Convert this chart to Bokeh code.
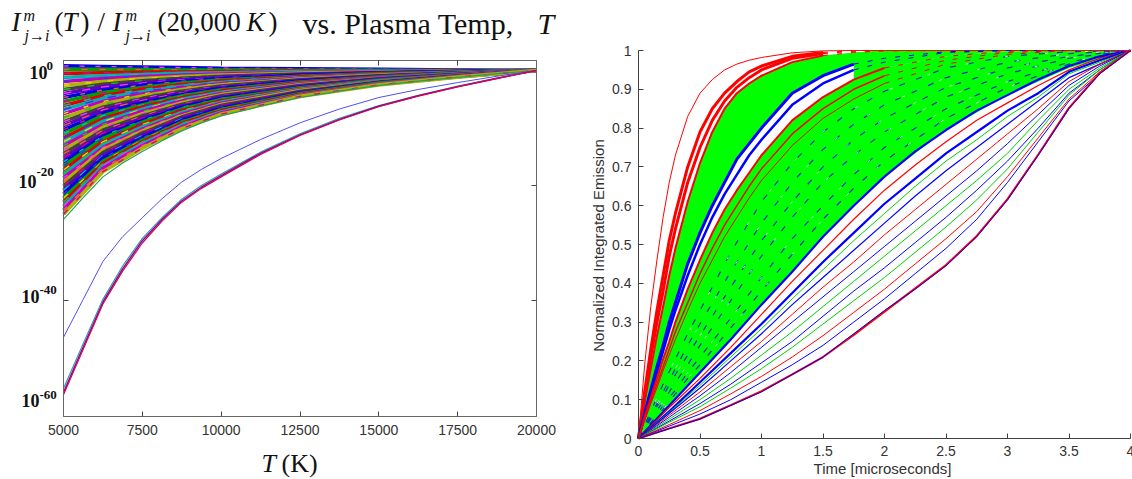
from bokeh.embed import file_html
from bokeh.resources import INLINE
from bokeh.plotting import figure
from bokeh.layouts import row
from bokeh.models import Range1d, FixedTicker, Label, LinearAxis, LogAxis

# ---------- left chart data: log10 of the ratio at each temperature ----------
temps = [5000, 6250, 7500, 8750, 10000, 12500, 15000, 17500, 20000]
band_rows = [
    [0.8, 0.7, 0.6, 0.5, 0.4, 0.3, 0.2, 0.1, 0],
    [0.2, 0.2, 0.15, 0.1, 0.1, 0.05, 0.05, 0, 0],
    [-0.5, -0.4, -0.3, -0.25, -0.2, -0.1, -0.05, 0, 0],
    [-1.2, -0.9, -0.7, -0.5, -0.4, -0.2, -0.1, -0.05, 0],
    [-1.9, -1.4, -1.05, -0.8, -0.6, -0.35, -0.2, -0.1, 0],
    [-2.6, -1.9, -1.4, -1.05, -0.8, -0.45, -0.25, -0.1, 0],
    [-3.3, -2.4, -1.8, -1.35, -1.0, -0.6, -0.35, -0.15, 0],
    [-4.0, -2.85, -2.2, -1.6, -1.2, -0.7, -0.4, -0.2, 0],
    [-4.7, -3.4, -2.55, -1.9, -1.45, -0.85, -0.45, -0.2, 0],
    [-5.4, -3.85, -2.95, -2.2, -1.65, -1.0, -0.55, -0.25, 0],
    [-6.1, -4.4, -3.3, -2.5, -1.85, -1.1, -0.6, -0.3, 0],
    [-6.8, -4.85, -3.7, -2.75, -2.1, -1.25, -0.7, -0.3, 0],
    [-7.5, -5.4, -4.1, -3.05, -2.3, -1.35, -0.75, -0.35, 0],
    [-8.2, -5.85, -4.45, -3.3, -2.5, -1.5, -0.8, -0.4, 0],
    [-8.9, -6.4, -4.85, -3.6, -2.7, -1.6, -0.9, -0.4, 0],
    [-9.6, -6.85, -5.2, -3.9, -2.95, -1.75, -0.95, -0.45, 0],
    [-10.3, -7.4, -5.6, -4.2, -3.15, -1.85, -1.05, -0.5, 0],
    [-11.0, -7.85, -6.0, -4.45, -3.35, -2.0, -1.1, -0.5, 0],
    [-11.7, -8.4, -6.35, -4.75, -3.55, -2.1, -1.2, -0.55, 0],
    [-12.4, -8.85, -6.75, -5.0, -3.8, -2.25, -1.25, -0.55, 0],
    [-13.1, -9.4, -7.1, -5.3, -4.0, -2.35, -1.3, -0.6, 0],
    [-13.8, -9.9, -7.5, -5.6, -4.2, -2.5, -1.4, -0.65, 0],
    [-14.5, -10.4, -7.9, -5.9, -4.4, -2.6, -1.45, -0.65, 0],
    [-15.2, -10.9, -8.3, -6.2, -4.65, -2.75, -1.5, -0.7, 0],
    [-15.9, -11.4, -8.7, -6.4, -4.85, -2.9, -1.6, -0.75, 0],
    [-16.6, -11.8, -9.0, -6.7, -5.05, -3.0, -1.65, -0.75, 0],
    [-17.3, -12.4, -9.4, -7.0, -5.3, -3.15, -1.75, -0.8, 0],
    [-18.0, -12.9, -9.8, -7.3, -5.5, -3.25, -1.8, -0.85, 0],
    [-18.7, -13.4, -10.2, -7.6, -5.7, -3.4, -1.9, -0.85, 0],
    [-19.4, -13.8, -10.5, -7.9, -5.9, -3.5, -1.95, -0.9, 0],
    [-20.1, -14.3, -10.9, -8.1, -6.1, -3.65, -2.0, -0.9, 0],
    [-20.8, -14.8, -11.3, -8.4, -6.4, -3.8, -2.1, -0.95, 0],
    [-21.5, -15.2, -11.7, -8.7, -6.6, -3.9, -2.15, -1.0, 0],
    [-22.2, -15.8, -12.1, -9.0, -6.8, -4.0, -2.2, -1.0, 0],
    [-22.9, -16.2, -12.4, -9.2, -7.0, -4.15, -2.3, -1.05, 0],
    [-23.6, -16.6, -12.7, -9.5, -7.2, -4.3, -2.35, -1.1, 0],
    [-24.3, -17.0, -13.1, -9.8, -7.4, -4.4, -2.4, -1.1, 0],
    [-25.0, -17.6, -13.5, -10.1, -7.6, -4.5, -2.5, -1.15, 0],
]
temps_fine = [5000, 5625, 6250, 6875, 7500, 8125, 8750, 9375, 10000, 11250, 12500, 13750, 15000, 16250, 17500, 18750, 20000]
band_edge = [-25.9, -22.1, -18.5, -16.1, -14.1, -12.2, -10.5, -9.1, -7.9, -6.2, -4.7, -3.6, -2.6, -1.85, -1.2, -0.55, 0]
blue_alone = [-46.4, -39.8, -33.2, -28.9, -25.6, -22.3, -19.4, -17.2, -15.3, -12.0, -9.1, -6.7, -4.7, -3.3, -2.1, -1.0, 0]
low_teal = [-55.3, -47.5, -39.8, -34.0, -29.2, -25.6, -22.4, -20.0, -18.0, -14.2, -11.0, -8.3, -6.1, -4.3, -2.7, -1.3, 0]
low_purple = [-56.0, -48.1, -40.3, -34.5, -29.6, -25.9, -22.7, -20.3, -18.3, -14.4, -11.2, -8.5, -6.2, -4.4, -2.8, -1.35, 0]
low_red = [-56.4, -48.5, -40.6, -34.9, -30.0, -26.2, -22.9, -20.5, -18.5, -14.6, -11.3, -8.6, -6.3, -4.45, -2.85, -1.4, 0]
band_palette = ["#0000e0", "#00a000", "#e00000", "#00b0b0", "#c000c0", "#b0b000", "#404040", "#6000c0"]
speck_palette = ["#ff30ff", "#e0e000", "#00c0c0", "#ff5050", "#20c020", "#3030ff", "#e00080"]
left_xticks = [5000, 7500, 10000, 12500, 15000, 17500, 20000]
left_yticks = [-20, -40, -60]

# ---------- right chart data ----------
t_fast = [0, .05, .1, .15, .2, .25, .3, .4, .5, .6, .7, .8, .9, 1, 1.25, 1.5, 1.75, 2, 2.5, 3, 3.5, 4]
red_outer = [0, .19, .34, .46, .57, .66, .73, .83, .89, .925, .95, .965, .975, .982, .994, .999, 1, 1, 1, 1, 1, 1]
red_a = [0, .12, .23, .33, .42, .51, .58, .70, .79, .85, .89, .92, .945, .96, .985, .995, .999, 1, 1, 1, 1, 1]
red_b = [0, .105, .21, .30, .38, .47, .54, .66, .75, .82, .87, .905, .93, .95, .98, .992, .998, 1, 1, 1, 1, 1]
red_c = [0, .095, .18, .265, .34, .42, .49, .61, .71, .79, .85, .89, .915, .935, .97, .987, .995, .999, 1, 1, 1, 1]
blue_a = [0, .065, .125, .185, .24, .30, .35, .45, .53, .60, .66, .72, .76, .80, .89, .935, .965, .98, .997, 1, 1, 1]
blue_b = [0, .06, .115, .17, .225, .28, .33, .42, .50, .57, .63, .68, .73, .77, .86, .915, .95, .97, .995, 1, 1, 1]
red_d = [0, .055, .105, .155, .205, .25, .30, .385, .46, .53, .59, .64, .685, .73, .82, .88, .925, .955, .985, .998, 1, 1]
red_e = [0, .05, .095, .14, .185, .23, .275, .35, .425, .49, .55, .60, .65, .695, .785, .85, .90, .935, .975, .995, 1, 1]
red_f = [0, .045, .09, .13, .175, .215, .255, .33, .40, .46, .52, .57, .62, .665, .755, .825, .875, .915, .965, .99, 1, 1]
green_b_bottom = [0, .017, .035, .052, .07, .087, .104, .138, .172, .205, .24, .275, .31, .345, .43, .52, .60, .675, .795, .885, .955, 1]
green_top = [0, .095, .18, .265, .34, .42, .49, .61, .71, .79, .85, .89, .915, .935, .97, .987, .995, 1, 1, 1, 1, 1]
fast_styles = [(red_outer, "#ff0000", 1.0, 22), (red_a, "#ff0000", 3.0, 16), (red_b, "#ff0000", 3.0, 16),
               (red_c, "#ff0000", 2.0, 16), (blue_a, "#0000ff", 3.0, 17), (blue_b, "#0000ff", 2.5, 17),
               (red_d, "#ff0000", 2.0, 18), (red_e, "#ff0000", 1.5, 18), (red_f, "#ff0000", 1.0, 18)]

t_slow = [0, .25, .5, .75, 1, 1.25, 1.5, 1.75, 2, 2.25, 2.5, 2.75, 3, 3.25, 3.5, 3.75, 4]
slow_rows = [
    ("#0000ff", 2.2, [0, .085, .17, .255, .345, .43, .52, .60, .675, .74, .795, .845, .885, .925, .96, .985, 1]),
    ("#ff0000", 1.2, [0, .08, .155, .235, .32, .405, .485, .565, .64, .705, .765, .82, .865, .91, .95, .98, 1]),
    ("#0000ff", 2.2, [0, .07, .145, .22, .295, .375, .455, .53, .605, .67, .735, .79, .845, .89, .945, .975, 1]),
    ("#00d000", 1.0, [0, .068, .137, .21, .283, .36, .435, .51, .58, .65, .715, .77, .83, .88, .94, .97, 1]),
    ("#0000ff", 1.2, [0, .065, .13, .20, .27, .345, .415, .485, .555, .625, .69, .75, .81, .87, .93, .965, 1]),
    ("#ff0000", 1.0, [0, .06, .12, .185, .25, .32, .39, .455, .525, .59, .655, .72, .785, .85, .92, .965, 1]),
    ("#0000ff", 1.0, [0, .055, .11, .17, .235, .30, .365, .43, .495, .56, .625, .69, .76, .835, .91, .96, 1]),
    ("#00d000", 1.0, [0, .05, .10, .155, .215, .275, .34, .405, .47, .535, .60, .665, .735, .82, .90, .955, 1]),
    ("#0000ff", 1.0, [0, .045, .09, .14, .195, .25, .315, .38, .44, .505, .57, .64, .715, .80, .89, .95, 1]),
    ("#00d000", 1.0, [0, .042, .082, .13, .18, .235, .295, .355, .415, .48, .545, .615, .695, .79, .885, .95, 1]),
    ("#ff0000", 1.0, [0, .036, .072, .115, .16, .21, .265, .325, .385, .45, .515, .585, .675, .775, .875, .945, 1]),
    ("#0000ff", 1.0, [0, .032, .063, .10, .145, .19, .24, .30, .36, .425, .49, .565, .66, .765, .87, .94, 1]),
    ("#ff0000", 2.0, [0, .026, .051, .086, .122, .165, .21, .267, .327, .387, .447, .522, .617, .732, .852, .942, 1]),
    ("#0000ff", 1.0, [0, .025, .05, .085, .12, .165, .21, .27, .33, .385, .445, .52, .615, .73, .85, .94, 1]),
]
t_mid = [0, .1, .2, .3, .4, .5, .75, 1, 1.25, 1.5, 1.75, 2, 2.5, 3, 3.5, 4]
mid_rows = [
    [0, .07, .14, .205, .27, .33, .48, .61, .71, .79, .85, .895, .955, .985, .997, 1],
    [0, .06, .12, .18, .24, .295, .43, .555, .66, .745, .81, .86, .93, .97, .992, 1],
    [0, .055, .11, .165, .215, .265, .39, .51, .61, .70, .77, .825, .905, .955, .985, 1],
    [0, .05, .095, .145, .19, .24, .355, .47, .57, .66, .73, .79, .88, .94, .98, 1],
    [0, .04, .085, .125, .17, .21, .31, .415, .515, .60, .68, .75, .85, .92, .97, 1],
    [0, .04, .075, .115, .155, .19, .285, .38, .475, .565, .645, .715, .825, .905, .965, 1],
]
right_xticks = [0, .5, 1, 1.5, 2, 2.5, 3, 3.5, 4]
right_yticks = [0, .1, .2, .3, .4, .5, .6, .7, .8, .9, 1]

H = 479
L_W = 580
R_W = 552
# Both figures' frames fill the whole figure, so that their axes sit inside the frame
# and their texts are not clipped. These are page pixels of the plot boxes.
BOX_L, BOX_R, BOX_T, BOX_B = 63, 536, 60, 416
PX_PER_DECADE = 5.75
Y_ZERO_PX = 70
x_per_px = (20000 - 5000) / (BOX_R - BOX_L)
top_dec = Y_ZERO_PX / PX_PER_DECADE
bot_dec = (Y_ZERO_PX - H) / PX_PER_DECADE
box_top_dec = (Y_ZERO_PX - BOX_T) / PX_PER_DECADE
box_bot_dec = (Y_ZERO_PX - BOX_B) / PX_PER_DECADE
R_BOX_L, R_BOX_R, R_BOX_T, R_BOX_B = 58, 550, 50, 438
t_per_px = 4 / (R_BOX_R - R_BOX_L)
v_per_px = 1 / (R_BOX_B - R_BOX_T)


def powers(seq):
    return [10.0 ** v for v in seq]


# ---------- left ----------
left = figure(width=L_W, height=H, output_backend="svg", toolbar_location=None,
              y_axis_type="log",
              x_range=Range1d(5000 - BOX_L * x_per_px, 20000 + (L_W - BOX_R) * x_per_px),
              y_range=Range1d(10.0 ** bot_dec, 10.0 ** top_dec),
              min_border_left=0, min_border_right=0, min_border_top=0, min_border_bottom=0)
left.grid.visible = False
left.outline_line_color = None
for i, r in enumerate(band_rows):
    y = powers(r)
    left.line(temps, y, line_color=band_palette[i % len(band_palette)], line_width=3.6)
    left.line(temps, y, line_color=speck_palette[(i * 3) % len(speck_palette)], line_width=1.4,
              line_dash=f"{5 + i % 4} {11 + i % 7}")
left.line(temps_fine, powers(band_edge), line_color="#20a060", line_width=1.2)
left.line(temps_fine, powers(blue_alone), line_color="#5050f0", line_width=1)
left.line(temps_fine, powers(low_teal), line_color="#30a0a0", line_width=1.2)
left.line(temps_fine, powers(low_purple), line_color="#8000a0", line_width=1.4)
left.line(temps_fine, powers(low_red), line_color="#e00050", line_width=1.2)

box_y = (10.0 ** box_bot_dec, 10.0 ** box_top_dec)
AXIS = dict(major_tick_in=5, major_tick_out=0, minor_tick_line_color=None, minor_tick_out=0,
            axis_line_color="#666666", major_tick_line_color="#444444",
            major_label_text_font_size="0px", major_label_standoff=0)
xa = left.xaxis[0]
xa.update(ticker=FixedTicker(ticks=left_xticks), fixed_location=box_y[0], bounds=(5000, 20000),
          major_label_overrides={t: "" for t in left_xticks}, **AXIS)
ya = left.yaxis[0]
ya.update(ticker=FixedTicker(ticks=powers(left_yticks[:2])), fixed_location=5000, bounds=box_y,
          major_label_overrides={t: "" for t in powers(left_yticks[:2])}, **AXIS)
left.add_layout(LinearAxis(ticker=FixedTicker(ticks=left_xticks), fixed_location=box_y[1], bounds=(5000, 20000),
                           major_label_overrides={t: "" for t in left_xticks}, **AXIS), "above")
left.add_layout(LogAxis(ticker=FixedTicker(ticks=powers(left_yticks[:2])), fixed_location=20000, bounds=box_y,
                        major_label_overrides={t: "" for t in powers(left_yticks[:2])}, **AXIS), "right")


def put(px, py, text, size, style="normal", color="#111111", font="Liberation Serif"):
    """Place a text whose baseline lies at page pixel (px, py); the label draws about 0.4 em lower."""
    left.add_layout(Label(x=px, y=H - py + 0.4 * size, x_units="screen", y_units="screen",
                          text=text, text_font=font, text_font_size=f"{size}px", level="overlay",
                          text_font_style=style, text_color=color, text_baseline="alphabetic"))


for t in left_xticks:
    left.add_layout(Label(x=t, y=H - 429, y_units="screen", text=str(t), text_align="center",
                          text_baseline="alphabetic", text_font="Liberation Sans", level="overlay",
                          text_font_size="14px", text_color="#333333"))

# title pieces
put(11, 32, "I", 27, "italic")
put(23, 21, "m", 16, "italic")
put(24, 41, "j→i", 16, "italic")
put(54, 32, "(", 27)
put(62, 32, "T", 27, "italic")
put(80, 32, ")", 27)
put(97, 32, "/", 27)
put(112, 32, "I", 27, "italic")
put(125, 21, "m", 16, "italic")
put(125, 41, "j→i", 16, "italic")
put(157, 32, "(20,000", 27)
put(246, 32, "K", 27, "italic")
put(268, 32, ")", 27)
put(302, 35, "vs. Plasma Temp,", 30)
put(537, 35, "T", 30, "italic")
# y tick labels
put(29, 79, "10", 18, "bold")
put(46, 71, "0", 13, "bold")
put(18, 188, "10", 18, "bold")
put(36, 177, "-20", 13, "bold")
put(21, 303, "10", 18, "bold")
put(39, 295, "-40", 13, "bold")
put(21, 407, "10", 18, "bold")
put(39, 400, "-60", 13, "bold")
# x axis title
put(261, 473, "T", 26, "italic")
put(281, 473, "(K)", 26)

# ---------- right ----------
right = figure(width=R_W, height=H, output_backend="svg", toolbar_location=None,
               x_range=Range1d(-R_BOX_L * t_per_px, 4 + (R_W - R_BOX_R) * t_per_px),
               y_range=Range1d(-(H - R_BOX_B) * v_per_px, 1 + R_BOX_T * v_per_px),
               min_border_left=0, min_border_right=0, min_border_top=0, min_border_bottom=0)
right.grid.visible = False
right.outline_line_color = None
right.varea(t_fast, blue_a, green_top, fill_color="#00ff00")
right.varea(t_fast, green_b_bottom, red_d, fill_color="#00ff00")
right.varea(t_fast[16:], red_d[16:], green_top[16:], fill_color="#00ff00")
for y in mid_rows:
    right.line(t_mid, y, line_color="#1030c0", line_width=1.2, line_dash="6 12")
    right.line(t_mid, y, line_color="#ffffff", line_width=0.8, line_dash="3 37")
for col, w, y in slow_rows:
    right.line(t_slow, y, line_color=col, line_width=w)
for y, col, w, n in fast_styles:
    right.line(t_fast[:n], y[:n], line_color=col, line_width=w)
    right.line(t_fast[n - 1:], y[n - 1:], line_color=col, line_width=1, line_dash="5 9")

R_AXIS = dict(major_tick_in=5, major_tick_out=0, minor_tick_line_color=None, minor_tick_out=0,
              axis_line_color="#404040", major_tick_line_color="#404040",
              major_label_text_font_size="0px", major_label_standoff=0)
right.xaxis[0].update(ticker=FixedTicker(ticks=right_xticks), fixed_location=0, bounds=(0, 4),
                      major_label_overrides={t: "" for t in right_xticks}, **R_AXIS)
right.yaxis[0].update(ticker=FixedTicker(ticks=right_yticks), fixed_location=0, bounds=(0, 1),
                      major_label_overrides={t: "" for t in right_yticks}, **R_AXIS)
SANS = dict(text_font="Liberation Sans", text_color="#333333", level="overlay")
for t in right_xticks:
    right.add_layout(Label(x=t, y=H - 450, y_units="screen", text=f"{t:g}", text_align="center",
                           text_baseline="alphabetic", text_font_size="14px", **SANS))
for v in right_yticks:
    right.add_layout(Label(x=R_BOX_L - 7, x_units="screen", y=v, text=f"{v:g}", text_align="right",
                           text_baseline="middle", text_font_size="14px", **SANS))
right.add_layout(Label(x=302, y=H - 468, x_units="screen", y_units="screen", text="Time [microseconds]",
                       text_align="center", text_baseline="alphabetic", text_font_size="15px", **SANS))
right.add_layout(Label(x=18, y=H - 245, x_units="screen", y_units="screen",
                       text="Normalized Integrated Emission", angle=90, angle_units="deg",
                       text_align="center", text_baseline="middle", text_font_size="15px", **SANS))

open("out.html", "w").write(file_html(row(left, right), INLINE))
